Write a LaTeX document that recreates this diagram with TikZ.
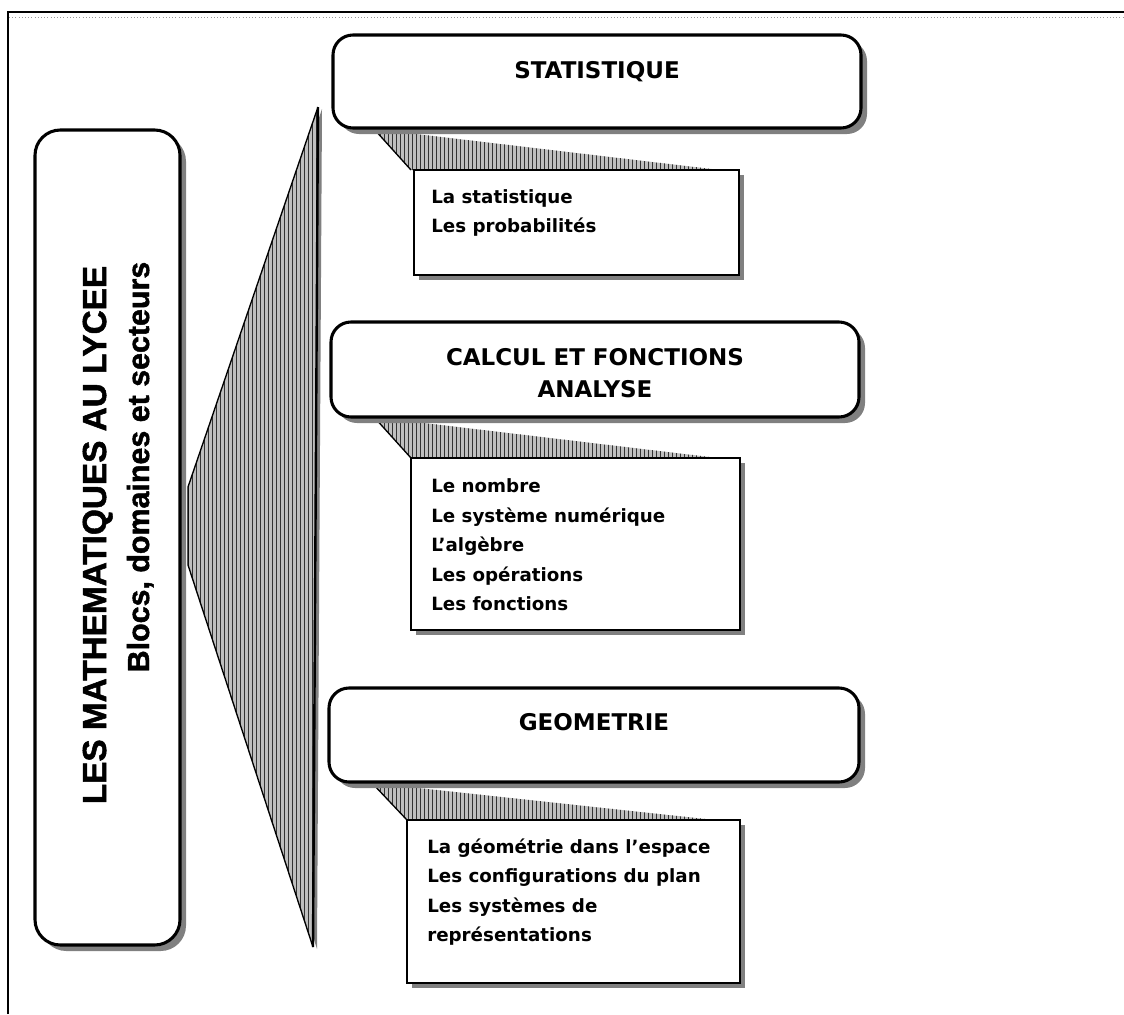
\documentclass[tikz,border=0pt]{standalone}
\usepackage{fontspec}
\setmainfont{DejaVu Sans}
\newfontfamily\boldfont{DejaVu Sans}[BoldFont={DejaVu Sans Bold}]
\newfontfamily\arialfam{Liberation Sans Bold}[FakeBold=1.5]
\usetikzlibrary{patterns,shadows}
\begin{document}
\begin{tikzpicture}[x=0.75pt,y=-0.75pt]
\tikzset{
  bigbox/.style={draw=black, line width=2.3pt, rounded corners=15pt, fill=white, inner sep=0pt,
    drop shadow={shadow xshift=4.5pt, shadow yshift=-4.5pt, fill=black!50, opacity=1}},
  listbox/.style={draw=black, line width=1.5pt, fill=white, inner sep=0pt,
    drop shadow={shadow xshift=4pt, shadow yshift=-4pt, fill=black!50, opacity=1}},
  titletext/.style={font=\boldfont\bfseries\fontsize{17.25}{20}\selectfont, anchor=base, inner sep=0pt},
  itemtext/.style={font=\boldfont\bfseries\fontsize{13.7}{16}\selectfont, anchor=base west, inner sep=0pt},
  hatch/.style={preaction={fill=black!25}, pattern=vertical lines, pattern color=black!80},
  edge/.style={draw=black, line width=1pt}
}
\useasboundingbox (0,0) rectangle (1124,1014);
% page frame
\draw[line width=0.8pt] (8,1014) -- (8,12) -- (1124,12);
\draw[black!40, dotted, line width=0.4pt] (9,17) -- (1124,17);

% big wedge
\fill[black!50, shift={(4,2)}] (318,107) -- (188,487) -- (188,565) -- (313,947) -- cycle;
\path[hatch] (318,107) -- (188,487) -- (188,565) -- (313,947) -- cycle;
\draw[line width=1pt, line join=miter] (318,107) -- (188,487) -- (188,565) -- (313,947);
\draw[line width=1.8pt] (318,107) -- (313,947);

% funnels
\path[hatch] (374,129) -- (411,170) -- (720,170) -- cycle;
\draw[edge] (374,129) -- (411,170);
\path[hatch] (374,417) -- (411,458) -- (718,458) -- cycle;
\draw[edge] (374,417) -- (411,458);
\path[hatch] (372,783) -- (407,820) -- (715,820) -- cycle;
\draw[edge] (372,783) -- (407,820);

% left main box
\node[bigbox, rounded corners=19pt, minimum width={145*0.75pt}, minimum height={815*0.75pt}] (main) at (107.5,537.5) {};
\node[rotate=90, anchor=base, inner sep=0pt, font=\arialfam\fontsize{25}{28}\selectfont] (maintitle) at (106,535) {LES MATHEMATIQUES AU LYCEE};
\node[rotate=90, anchor=base, inner sep=0pt, font=\arialfam\fontsize{22.8}{26}\selectfont] (mainsub) at (149,467) {Blocs, domaines et secteurs};

% domain boxes
\node[bigbox, minimum width={528*0.75pt}, minimum height={93*0.75pt}] (stat) at (597,81.5) {};
\node[bigbox, minimum width={528*0.75pt}, minimum height={95*0.75pt}] (calc) at (595,369.5) {};
\node[bigbox, minimum width={530*0.75pt}, minimum height={94*0.75pt}] (geo) at (594,735) {};

\node[titletext] (tstat) at (597,78.4) {STATISTIQUE};
\node[titletext] (tcalca) at (595,365.4) {CALCUL ET FONCTIONS};
\node[titletext] (tcalcb) at (595,397.4) {ANALYSE};
\node[titletext] (tgeo) at (594,730.4) {GEOMETRIE};

% list boxes
\node[listbox, minimum width={325*0.75pt}, minimum height={105*0.75pt}] (lstat) at (576.5,222.5) {};
\node[listbox, minimum width={329*0.75pt}, minimum height={172*0.75pt}] (lcalc) at (575.5,544) {};
\node[listbox, minimum width={333*0.75pt}, minimum height={163*0.75pt}] (lgeo) at (573.5,901.5) {};

\node[itemtext] (s1) at (431,203) {La statistique};
\node[itemtext] (s2) at (431,232) {Les probabilités};

\node[itemtext] (c1) at (431,492) {Le nombre};
\node[itemtext] (c2) at (431,522) {Le système numérique};
\node[itemtext] (c3) at (431,551) {L’algèbre};
\node[itemtext] (c4) at (431,581) {Les opérations};
\node[itemtext] (c5) at (431,610) {Les fonctions};

\node[itemtext] (g1) at (427,853) {La géométrie dans l’espace};
\node[itemtext] (g2) at (427,882) {Les configurations du plan};
\node[itemtext] (g3) at (427,912) {Les systèmes de};
\node[itemtext] (g4) at (427,941) {représentations};
\end{tikzpicture}
\end{document}
